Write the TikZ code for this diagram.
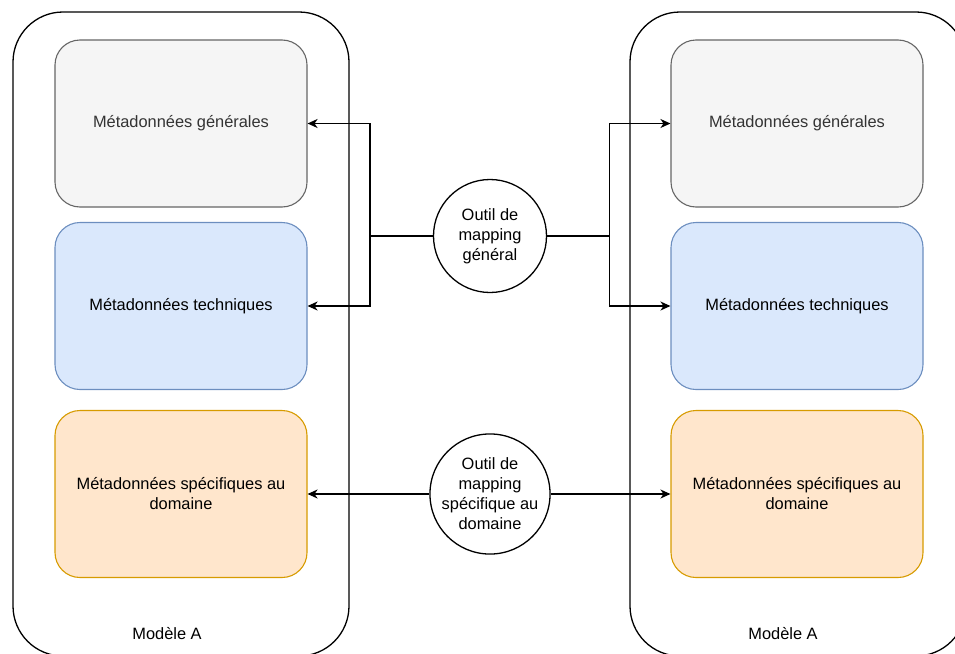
\documentclass[tikz,border=0pt]{standalone}
\usepackage{fontspec}
\setmainfont{Liberation Sans}
\usetikzlibrary{arrows.meta}
\definecolor{genfill}{RGB}{245,245,245}
\definecolor{gendraw}{RGB}{102,102,102}
\definecolor{gentext}{RGB}{51,51,51}
\definecolor{techfill}{RGB}{218,232,252}
\definecolor{techdraw}{RGB}{108,142,191}
\definecolor{domfill}{RGB}{255,230,204}
\definecolor{domdraw}{RGB}{215,155,0}
\begin{document}
\begin{tikzpicture}[x=1pt,y=-1pt,
  every node/.style={font=\fontsize{16.4}{20}\selectfont, align=center},
  model/.style={draw=black, line width=1.3pt, rounded corners=50pt},
  card/.style={rectangle, rounded corners=25pt, line width=1.1pt, minimum width=252pt, minimum height=167pt, inner sep=0pt},
  generalbox/.style={card, draw=gendraw, fill=genfill, text=gentext},
  techbox/.style={card, draw=techdraw, fill=techfill},
  domainbox/.style={card, draw=domdraw, fill=domfill},
  tool/.style={circle, draw=black, line width=1.3pt, minimum size=113pt, inner sep=0pt, fill=white},
  link/.style={line width=1.3pt, draw=black},
  arr/.style={link, -{Stealth[length=10pt, width=9pt, inset=3pt]}}
]
\useasboundingbox (0,0) rectangle (955,653);
\begin{scope}
\clip (0,0) rectangle (955,653);
% the two model containers
\draw[model] (13,12) rectangle (349,656);
\draw[model] (630,12) rectangle (966,656);
\end{scope}

% left model
\node[generalbox] (g1) at (181,123.5) {Métadonnées générales};
\node[techbox]    (t1) at (181,306) {Métadonnées techniques};
\node[domainbox]  (d1) at (181,494) {Métadonnées spécifiques au\\domaine};
\node (m1) at (167,634) {Modèle A};

% right model
\node[generalbox] (g2) at (797,123.5) {Métadonnées générales};
\node[techbox]    (t2) at (797,306) {Métadonnées techniques};
\node[domainbox]  (d2) at (797,494) {Métadonnées spécifiques au\\domaine};
\node (m2) at (783,634) {Modèle A};

% mapping tools
\node[tool] (c1) at (490,236) {Outil de\\mapping\\général};
\node[tool] (c2) at (490,494) {Outil de\\mapping\\spécifique au\\domaine};

% general mapping connectors
\draw[link] (c1.west) -- ++(-63,0) coordinate (j1);
\draw[arr] (j1) |- (g1.east);
\draw[arr] (j1) |- (t1.east);
\draw[link] (c1.east) -- ++(62,0) coordinate (j2);
\draw[arr] (j2) |- (g2.west);
\draw[arr] (j2) |- (t2.west);

% domain mapping connectors
\draw[arr] (c2.west) -- (d1.east);
\draw[arr] (c2.east) -- (d2.west);
\end{tikzpicture}
\end{document}
